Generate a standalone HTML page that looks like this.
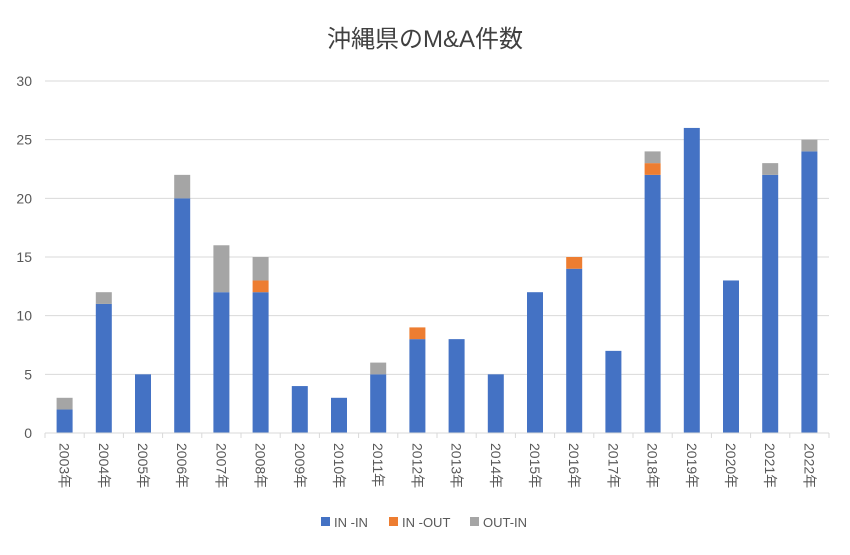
<!DOCTYPE html>
<html><head><meta charset="utf-8"><style>
body{margin:0;background:#fff;}
svg text{font-family:"Liberation Sans","Noto Sans CJK JP",sans-serif;}
</style></head><body>
<svg id="s" width="850" height="550" xmlns="http://www.w3.org/2000/svg">
<rect width="850" height="550" fill="#fff"/>
<text x="425" y="47" text-anchor="middle" font-size="24" fill="#404040">沖縄県のM&amp;A件数</text>
<g id="g"></g>
<rect x="321" y="517" width="9" height="9" fill="#4472C4"/>
<text x="334" y="527" font-size="13" fill="#595959">IN -IN</text>
<rect x="389" y="517" width="9" height="9" fill="#ED7D31"/>
<text x="402" y="527" font-size="13" fill="#595959">IN -OUT</text>
<rect x="470" y="517" width="9" height="9" fill="#A5A5A5"/>
<text x="483" y="527" font-size="13" fill="#595959">OUT-IN</text>
</svg>
<script>
var g=document.getElementById('g'),h='';
var y0=433,u=352/30,L=45,R=829,cw=(R-L)/20;
for(var v=0;v<=30;v+=5){var y=y0-v*u;
 if(v>0)h+='<line x1="'+L+'" x2="'+R+'" y1="'+y+'" y2="'+y+'" stroke="#D9D9D9"/>';
 h+='<text x="32" y="'+(y+5)+'" text-anchor="end" font-size="14" fill="#595959">'+v+'</text>';}
var a=[2,11,5,20,12,12,4,3,5,8,8,5,12,14,7,22,26,13,22,24];
var b=[0,0,0,0,0,1,0,0,0,1,0,0,0,1,0,1,0,0,0,0];
var c=[1,1,0,2,4,2,0,0,1,0,0,0,0,0,0,1,0,0,1,1];
for(var i=0;i<20;i++){var cx=L+cw/2+i*cw,x=cx-8;
 var ya=y0-a[i]*u;h+='<rect x="'+x+'" y="'+ya+'" width="16" height="'+(a[i]*u)+'" fill="#4472C4"/>';
 var yb=ya-b[i]*u;if(b[i])h+='<rect x="'+x+'" y="'+yb+'" width="16" height="'+(b[i]*u)+'" fill="#ED7D31"/>';
 if(c[i])h+='<rect x="'+x+'" y="'+(yb-c[i]*u)+'" width="16" height="'+(c[i]*u)+'" fill="#A5A5A5"/>';
 h+='<text transform="translate('+(cx-5)+',443) rotate(90)" font-size="14" fill="#595959">'+(2003+i)+'年</text>';}
h+='<line x1="'+L+'" x2="'+R+'" y1="'+y0+'" y2="'+y0+'" stroke="#D9D9D9"/>';
for(var i=0;i<=20;i++){var x=L+i*cw;h+='<line x1="'+x+'" x2="'+x+'" y1="'+y0+'" y2="'+(y0+5)+'" stroke="#D9D9D9"/>';}
g.innerHTML=h;
</script>
</body></html>
